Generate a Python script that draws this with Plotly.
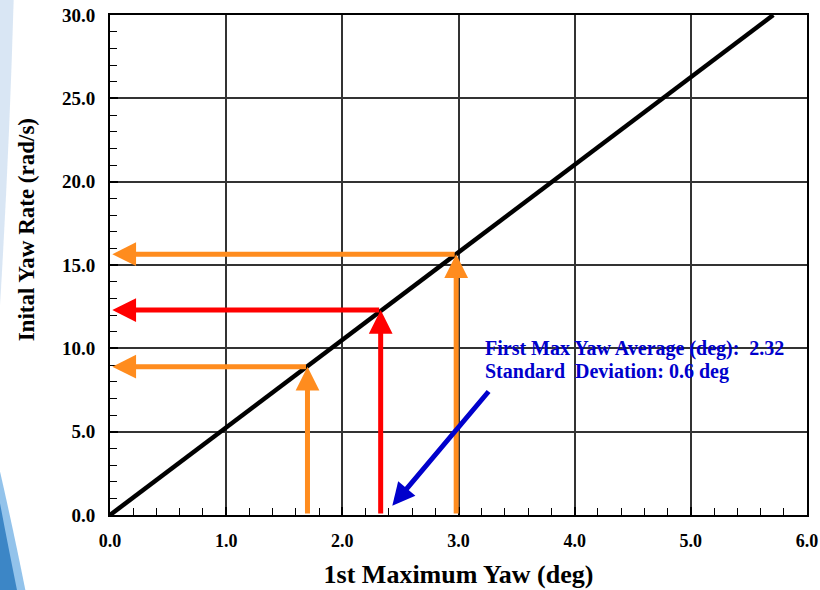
import plotly.graph_objects as go

# Data
line_x = [0.0, 5.71]
line_y = [0.0, 30.0]

pick_x = [1.70, 2.33, 2.98]
pick_y = [8.9, 12.3, 15.65]
pick_colors = ["#FF8C1E", "#FF0000", "#FF8C1E"]

note_lines = ["First Max Yaw Average (deg):  2.32", "Standard  Deviation: 0.6 deg"]
note_x = 3.21
note_y = [10.0, 8.6]

pointer_tail = (3.27, 7.5)
pointer_head = (2.43, 0.55)

x_ticks = [0, 1, 2, 3, 4, 5, 6]
y_ticks = [0, 5, 10, 15, 20, 25, 30]

FONT = "Liberation Serif"

fig = go.Figure()
fig.add_trace(go.Scatter(x=line_x, y=line_y, mode="lines",
                         line=dict(color="black", width=4.5), showlegend=False,
                         hoverinfo="skip"))

ann = []
for px, py, c in zip(pick_x, pick_y, pick_colors):
    ann.append(dict(x=px, y=py, ax=px, ay=0, xref="x", yref="y", axref="x", ayref="y",
                    text="", showarrow=True, arrowhead=2, arrowsize=0.95,
                    arrowwidth=5, arrowcolor=c, standoff=0, startstandoff=0))
    ann.append(dict(x=0.02, y=py, ax=px, ay=py, xref="x", yref="y", axref="x", ayref="y",
                    text="", showarrow=True, arrowhead=2, arrowsize=0.95,
                    arrowwidth=5, arrowcolor=c, standoff=0, startstandoff=0))

ann.append(dict(x=pointer_head[0], y=pointer_head[1], ax=pointer_tail[0], ay=pointer_tail[1],
                xref="x", yref="y", axref="x", ayref="y", text="", showarrow=True,
                arrowhead=2, arrowsize=0.9, arrowwidth=5, arrowcolor="#0000CC",
                standoff=0, startstandoff=0))

for t, yy in zip(note_lines, note_y):
    ann.append(dict(x=note_x, y=yy, xref="x", yref="y", text=t,
                    showarrow=False, xanchor="left", yanchor="middle",
                    font=dict(family=FONT, size=20, color="#0000CC", weight="bold")))

# y-axis title placed as in the reference (slightly above centre)
ann.append(dict(x=-0.12, y=0.57, xref="paper", yref="paper", text="Inital Yaw Rate (rad/s)",
                showarrow=False, textangle=-90, xanchor="center", yanchor="middle",
                font=dict(family=FONT, size=23, color="black", weight="bold")))

shapes = [
    dict(type="path", xref="paper", yref="paper", layer="below",
         path="M -0.16,1.04 L -0.138,1.04 Q -0.145,0.7 -0.16,0.37 Z",
         fillcolor="rgba(170,200,230,0.45)", line=dict(width=0)),
    dict(type="path", xref="paper", yref="paper", layer="below",
         path="M -0.16,-0.16 L -0.12,-0.16 Q -0.14,-0.02 -0.16,0.1 Z",
         fillcolor="rgba(120,180,230,0.8)", line=dict(width=0)),
    dict(type="path", xref="paper", yref="paper", layer="below",
         path="M -0.16,-0.16 L -0.132,-0.16 Q -0.148,-0.05 -0.16,0.04 Z",
         fillcolor="#3C86C6", line=dict(width=0)),
]

axis_common = dict(showline=True, linecolor="black", linewidth=2, mirror=True,
                   showgrid=True, gridcolor="#333333", gridwidth=1.5,
                   ticks="inside", ticklen=8, tickcolor="black", tickwidth=1.5,
                   tickformat=".1f", zeroline=False, automargin=False)

fig.update_layout(
    width=820, height=590,
    margin=dict(l=110, r=13, t=15, b=75),
    paper_bgcolor="white", plot_bgcolor="white",
    showlegend=False,
    annotations=ann, shapes=shapes,
    xaxis=dict(range=[0, 6], tickvals=x_ticks, ticklabelstandoff=8, **axis_common,
               tickfont=dict(family=FONT, size=18, color="black", weight="bold"),
               minor=dict(dtick=0.2, ticks="inside", ticklen=7, tickcolor="black",
                          tickwidth=1.2, showgrid=False),
               title=dict(text="1st Maximum Yaw (deg)", standoff=15,
                          font=dict(family=FONT, size=26, color="black", weight="bold"))),
    yaxis=dict(range=[0, 30], tickvals=y_ticks, ticklabelstandoff=9, **axis_common,
               tickfont=dict(family=FONT, size=19, color="black", weight="bold"),
               minor=dict(dtick=1, ticks="inside", ticklen=7, tickcolor="black",
                          tickwidth=1.2, showgrid=False)),
)

fig.write_html("out.html")
